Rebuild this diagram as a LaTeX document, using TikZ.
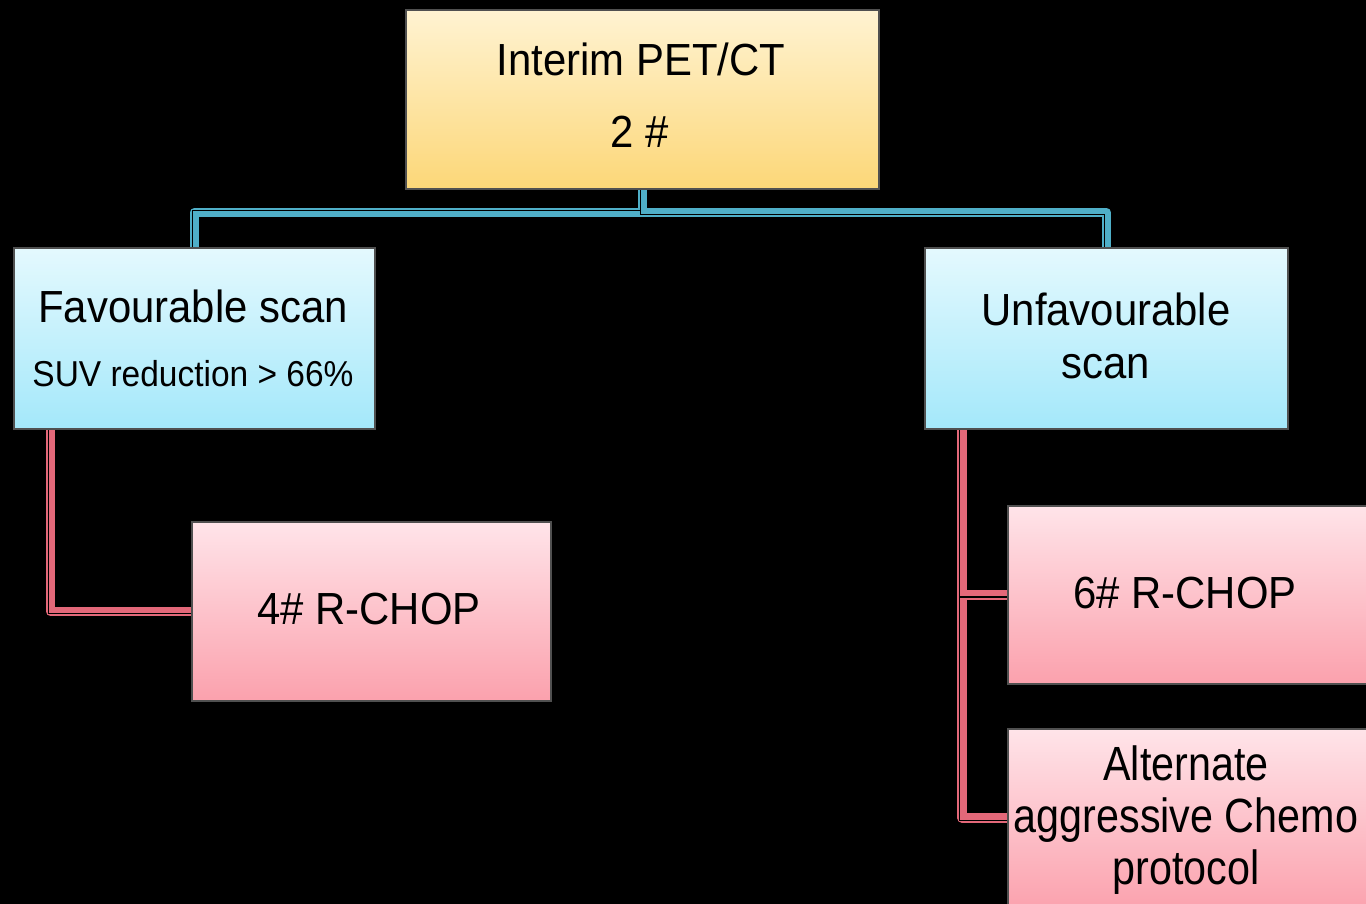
\documentclass[tikz,border=0pt]{standalone}
\usepackage{fontspec}
\setmainfont{Liberation Sans}[FakeStretch=0.93]
\newfontfamily\narrowfont{Liberation Sans}[FakeStretch=0.86]
\usetikzlibrary{calc}

\definecolor{ylTop}{HTML}{FFF3D2}
\definecolor{ylBot}{HTML}{FCD778}
\definecolor{blTop}{HTML}{E4F9FE}
\definecolor{blBot}{HTML}{A4E8FA}
\definecolor{pkTop}{HTML}{FFE4E9}
\definecolor{pkBot}{HTML}{FBA1AD}
\definecolor{blLine}{HTML}{4FAFC8}
\definecolor{pkLine}{HTML}{E36879}
\definecolor{edge}{HTML}{505050}

\pgfdeclarelayer{bg}
\pgfdeclarelayer{links}
\pgfsetlayers{bg,links,main}

\tikzset{
  box/.style={draw=edge, line width=1.6pt, rectangle, inner sep=0pt,
              minimum width=360pt, minimum height=180pt},
  ybox/.style={box, top color=ylTop, bottom color=ylBot},
  bbox/.style={box, top color=blTop, bottom color=blBot},
  pbox/.style={box, top color=pkTop, bottom color=pkBot},
  bband/.style={draw=blLine, line width=9.5pt, line join=round},
  pband/.style={draw=pkLine, line width=9.5pt, line join=round},
  gap/.style={draw=black, line width=1.1pt, line join=miter},
  txt/.style={anchor=base, inner sep=0pt, text=black,
              font=\fontsize{45}{54}\selectfont},
  stxt/.style={txt, font=\fontsize{36}{43}\selectfont},
  btxt/.style={txt, font=\narrowfont\fontsize{48}{56}\selectfont},
}

\begin{document}
\begin{tikzpicture}[x=1pt, y=-1pt]
  % page background
  \begin{pgfonlayer}{bg}
    \fill[black] (0,0) rectangle (1366,904);
  \end{pgfonlayer}
  \useasboundingbox (0,0) rectangle (1366,904);
  \clip (0,0) rectangle (1366,904);

  % boxes
  \node[ybox, minimum width=473pt, minimum height=179pt, anchor=north west] (top) at (405,9) {};
  \node[bbox, minimum width=361pt, minimum height=181pt, anchor=north west] (fav) at (13,247) {};
  \node[bbox, minimum width=363pt, minimum height=181pt, anchor=north west] (unf) at (924,247) {};
  \node[pbox, minimum width=359pt, minimum height=179pt, anchor=north west] (r4) at (191,521) {};
  \node[pbox, minimum width=362pt, minimum height=178pt, anchor=north west] (r6) at (1007,505) {};
  \node[pbox, minimum width=362pt, minimum height=182pt, anchor=north west] (alt) at (1007,728) {};

  % junction points of the connectors
  \coordinate (bus) at ($(top.south)+(0,23)$);
  \coordinate (lv) at ($(fav.south west)+(37.5,0)$);
  \coordinate (rv) at ($(unf.south west)+(38,0)$);
  \coordinate (altpt) at ($(alt.north west)+(0,90)$);

  % connectors: coloured band with a dark rule splitting off a thin line
  \begin{pgfonlayer}{links}
    \draw[bband] (fav.north) |- (bus) -- (top.south);
    \draw[bband] (unf.north) |- (bus) -- (top.south);
    \draw[pband] (r4.west) -| (lv);
    \draw[pband] (r6.west) -| (rv);
    \draw[pband] (altpt) -| (rv);

    \draw[gap] ($(fav.north)+(-2.2,0)$) |- ($(bus)+(-2.2,-2.2)$) -- ($(top.south)+(-2.2,0)$);
    \draw[gap] ($(unf.north)+(-2.2,0)$) |- ($(bus)+(-2.2,2.2)$) -- ($(top.south)+(-2.2,0)$);
    \draw[gap] ($(r4.west)+(0,2.2)$) -| ($(lv)+(-2.2,0)$);
    \draw[gap] ($(r6.west)+(0,2.2)$) -| ($(rv)+(-2.2,0)$);
    \draw[gap] ($(altpt)+(0,2.2)$) -| ($(rv)+(-2.2,0)$);
  \end{pgfonlayer}

  % labels
  \node[txt] (t-top1) at (641,76) {Interim PET/CT};
  \node[txt] (t-top2) at (640,148) {2 \#};
  \node[txt] (t-fav1) at (193,322) {Favourable scan};
  \node[stxt] (t-fav2) at (193,386) {SUV reduction > 66\%};
  \node[txt] (t-unf1) at (1106,325) {Unfavourable};
  \node[txt] (t-unf2) at (1106,378) {scan};
  \node[txt] (t-r4) at (369,624) {4\# R-CHOP};
  \node[txt] (t-r6) at (1185,608) {6\# R-CHOP};
  \node[btxt] (t-alt1) at (1186,780) {Alternate};
  \node[btxt] (t-alt2) at (1186,832) {aggressive Chemo};
  \node[btxt] (t-alt3) at (1186,884) {protocol};
\end{tikzpicture}
\end{document}
